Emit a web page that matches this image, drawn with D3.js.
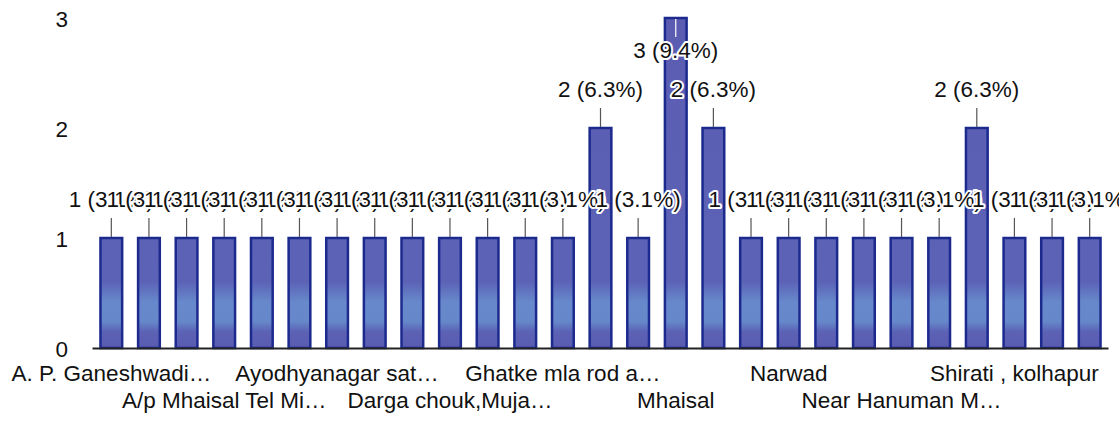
<!DOCTYPE html>
<html><head><meta charset="utf-8">
<script src="https://cdn.jsdelivr.net/npm/d3@7"></script>
<style>body{margin:0;background:#fff}svg{display:block}text{font-family:"Liberation Sans",Arial,sans-serif}</style>
</head><body><svg id="c" width="1119" height="421"></svg>
<script>
// Categories (only every third label is shown in the chart; hidden ones unknown)
const categories = ["A. P. Ganeshwadi…","","","A/p Mhaisal Tel Mi…","","","Ayodhyanagar sat…","","","Darga chouk,Muja…","","","Ghatke mla rod a…","","","Mhaisal","","","Narwad","","","Near Hanuman M…","","","Shirati , kolhapur","",""];
const values = [1,1,1,1,1,1,1,1,1,1,1,1,1,2,1,3,2,1,1,1,1,1,1,2,1,1,1];
const percents = ["3.1%","3.1%","3.1%","3.1%","3.1%","3.1%","3.1%","3.1%","3.1%","3.1%","3.1%","3.1%","3.1%","6.3%","3.1%","9.4%","6.3%","3.1%","3.1%","3.1%","3.1%","3.1%","3.1%","6.3%","3.1%","3.1%","3.1%"];
const yTicks = [0,1,2,3];

const FS = 22.5;
const svg = d3.select("#c");
const x = d3.scaleBand().domain(d3.range(values.length)).range([92.5,1108.5]).paddingInner(0.37).paddingOuter(0.185);
const y = d3.scaleLinear().domain([0,3]).range([348,18]);

const defs = svg.append("defs");
const g = defs.append("linearGradient").attr("id","bg").attr("gradientUnits","userSpaceOnUse")
  .attr("x1",0).attr("x2",0).attr("y1",y(3)).attr("y2",y(0));
[[0,"#5b5cb1"],[0.8,"#5c63b6"],[0.86,"#6788cb"],[0.92,"#6688ca"],[0.95,"#5c62b5"],[1,"#5a5bb0"]]
  .forEach(([o,c])=>g.append("stop").attr("offset",o).attr("stop-color",c));

// y axis tick labels
const yAxis = d3.axisLeft(y).tickValues(yTicks).tickSize(0).tickPadding(0).tickFormat(d3.format("d"));
svg.append("g").attr("transform","translate(68,0)").call(yAxis)
  .call(s=>s.select(".domain").remove())
  .selectAll("text").attr("font-size",FS).attr("fill","#111").attr("font-family","Liberation Sans, Arial").attr("dy","0.36em");

// bars
svg.append("g").selectAll("rect").data(values).join("rect")
  .attr("x",(d,i)=>x(i)+1).attr("width",x.bandwidth()-2)
  .attr("y",d=>y(d)).attr("height",d=>y(0)-y(d))
  .attr("fill","url(#bg)").attr("stroke","#1c2a8e").attr("stroke-width",2.5);

// baseline
svg.append("line").attr("x1",x.range()[0]).attr("x2",x.range()[1]).attr("y1",y(0)+0.5).attr("y2",y(0)+0.5)
  .attr("stroke","#222").attr("stroke-width",2);

// x labels (every 3rd, alternating rows)
const xAxis = d3.axisBottom(x).tickValues(d3.range(0,values.length,3)).tickSize(0).tickFormat(i=>categories[i]);
svg.append("g").attr("transform",`translate(0,${y(0)})`).call(xAxis)
  .call(s=>s.select(".domain").remove())
  .selectAll("text").attr("font-size",FS).attr("fill","#111").attr("font-family","Liberation Sans, Arial")
  .attr("y",(i)=> (i/3)%2===0 ? 33 : 60).attr("dy",0);

// annotations
const maxV = d3.max(values);
const ann = svg.append("g");
values.forEach((v,i)=>{
  const cx = x(i)+x.bandwidth()/2;
  const top = y(v);
  const inside = v===maxV;
  if(inside){
    ann.append("line").attr("x1",cx).attr("x2",cx).attr("y1",top+1).attr("y2",top+19).attr("stroke","#fff").attr("stroke-width",1.2);
  } else {
    ann.append("line").attr("x1",cx).attr("x2",cx).attr("y1",top-1).attr("y2",top-20).attr("stroke","#555").attr("stroke-width",1.2);
  }
});
values.forEach((v,i)=>{
  const cx = x(i)+x.bandwidth()/2;
  const top = y(v);
  const inside = v===maxV;
  const by = inside ? top+40 : top-31;
  ann.append("text").attr("x",cx).attr("y",by).attr("text-anchor","middle")
    .attr("font-size",FS).attr("fill","#111")
    .attr("stroke","#fff").attr("stroke-width",4).attr("paint-order","stroke").attr("stroke-linejoin","round")
    .text(`${v} (${percents[i]})`);
});
</script></body></html>
